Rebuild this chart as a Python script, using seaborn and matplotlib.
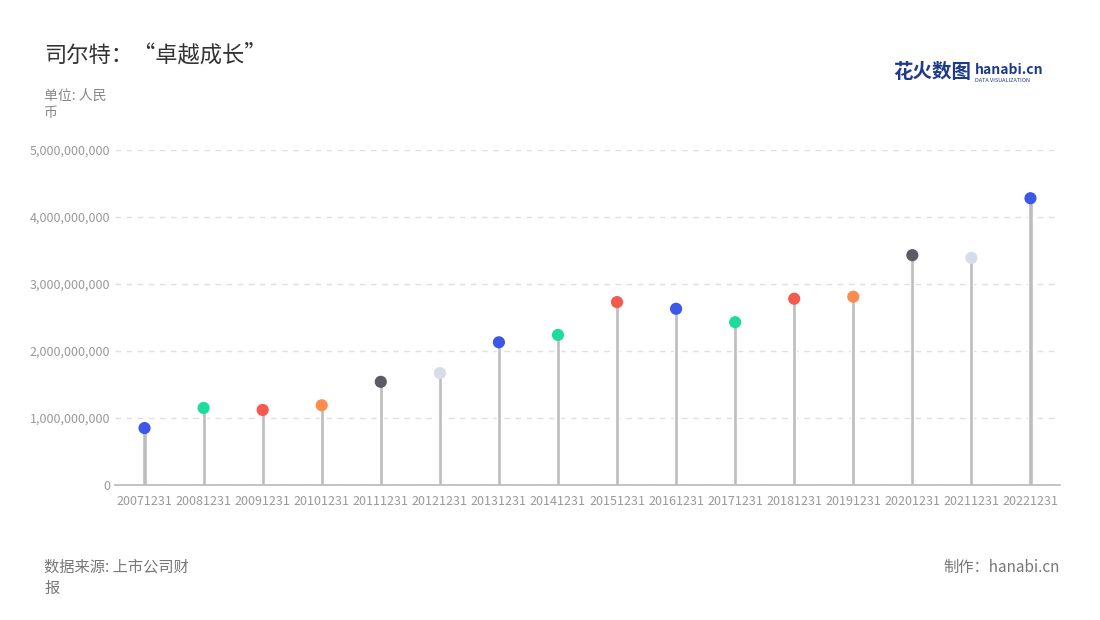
import matplotlib
matplotlib.use("Agg")
import matplotlib.pyplot as plt
import seaborn as sns
import pandas as pd

years = ["20071231","20081231","20091231","20101231","20111231","20121231","20131231","20141231",
         "20151231","20161231","20171231","20181231","20191231","20201231","20211231","20221231"]
values = [0.85e9,1.15e9,1.12e9,1.19e9,1.54e9,1.67e9,2.13e9,2.24e9,2.73e9,2.63e9,2.43e9,2.78e9,2.81e9,3.43e9,3.39e9,4.28e9]
point_colors = ["#3d57e8","#1ddc9c","#f55a4e","#ff8c4f","#5b5b63","#d6dce8","#3d57e8","#1ddc9c",
                "#f55a4e","#3d57e8","#1ddc9c","#f55a4e","#ff8c4f","#5b5b63","#d6dce8","#3d57e8"]
yticks = [0,1e9,2e9,3e9,4e9,5e9]

sns.set_theme(style="white")
plt.rcParams['font.family'] = ['Noto Sans CJK SC', 'DejaVu Sans']

df = pd.DataFrame({"year": years, "value": values})
fig = plt.figure(figsize=(11, 6.2), dpi=100)
ax = fig.add_axes([115/1100, 1-485/620, 945/1100, 335/620])
sns.barplot(data=df, x="year", y="value", color="#bdbdbd", width=0.07, ax=ax)
ax.scatter(range(len(years)), values, c=point_colors, s=60, zorder=5)
ax.set_ylim(0, 5e9)
ax.set_xlim(-0.5, len(years)-0.5)
ax.set_yticks(yticks)
ax.set_yticklabels([f"{int(v):,}" for v in yticks])
ax.yaxis.grid(True, linestyle=(0, (4, 4)), color="#e0e0e0")
ax.set_axisbelow(True)
for s in ["top", "right", "left"]:
    ax.spines[s].set_visible(False)
ax.spines["bottom"].set_color("#bbbbbb")
ax.tick_params(axis="both", labelsize=9, colors="#999999", length=0)
ax.tick_params(axis="x", length=4, color="#bbbbbb")
ax.set_xlabel(""); ax.set_ylabel("")

fig.text(44/1100, 1-55/620, "司尔特：“卓越成长”", fontsize=16, color="#333333", va="center")
fig.text(44/1100, 1-104/620, "单位: 人民\n币", fontsize=10, color="#888888", va="center", linespacing=1.3)
fig.text(44/1100, 1-578/620, "数据来源: 上市公司财\n报", fontsize=11, color="#777777", va="center", linespacing=1.3)
fig.text(1060/1100, 1-567/620, "制作：hanabi.cn", fontsize=11, color="#777777", va="center", ha="right")
fig.text(893/1100, 1-73/620, "花火数图", fontsize=14, color="#1f3a8a", va="center", fontweight="bold")
fig.text(975/1100, 1-70/620, "hanabi.cn", fontsize=10, color="#1f3a8a", va="center", fontweight="bold")
fig.text(975/1100, 1-81/620, "DATA VISUALIZATION", fontsize=4, color="#1f3a8a", va="center")
fig.savefig("out.png", dpi=100)
